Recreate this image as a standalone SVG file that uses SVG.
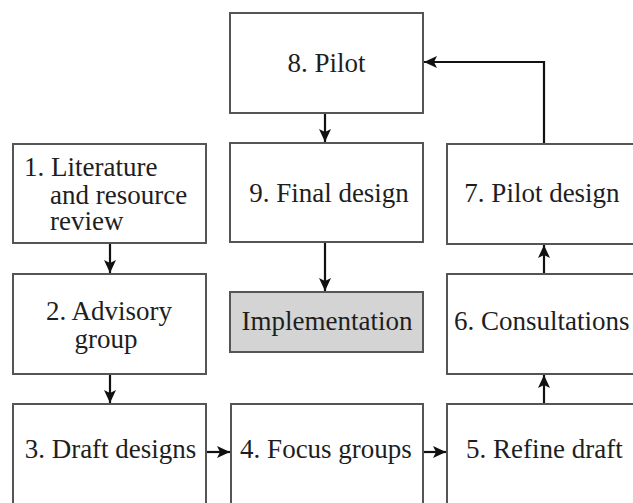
<svg xmlns="http://www.w3.org/2000/svg" width="633" height="503" viewBox="0 0 633 503">
  <style>
    .box { fill: #ffffff; stroke: #555555; stroke-width: 2; }
    .impl { fill: #d4d4d4; stroke: #555555; stroke-width: 2; }
    .lbl { font-family: "Liberation Serif", "Times New Roman", serif; font-size: 27px; fill: #1e1e1e; }
    .mid { text-anchor: middle; }
    .edge { fill: none; stroke: #111111; stroke-width: 2.2; marker-end: url(#head); }
  </style>
  <defs>
    <marker id="head" markerUnits="userSpaceOnUse" markerWidth="14" markerHeight="12" refX="13" refY="6" orient="auto">
      <path d="M0,0 L13,6 L0,12 L3,6 Z" fill="#111111"/>
    </marker>
  </defs>
  <rect width="633" height="503" fill="#ffffff"/>

  <g id="connectors">
    <path class="edge" d="M110,243 V273"/>
    <path class="edge" d="M110,374 V403"/>
    <path class="edge" d="M325,113 V142"/>
    <path class="edge" d="M325,242 V291"/>
    <path class="edge" d="M206,452 H230"/>
    <path class="edge" d="M423,452 H446"/>
    <path class="edge" d="M544,404 V375"/>
    <path class="edge" d="M544,274 V245"/>
    <path class="edge" d="M544,144 V62 H424"/>
  </g>

  <g id="node1">
    <rect class="box" x="13" y="144" width="193" height="99"/>
    <text class="lbl" x="24" y="176">1. Literature</text>
    <text class="lbl" x="50" y="204">and resource</text>
    <text class="lbl" x="50" y="230">review</text>
  </g>
  <g id="node2">
    <rect class="box" x="13" y="274" width="193" height="100"/>
    <text class="lbl mid" x="109" y="320">2. Advisory</text>
    <text class="lbl mid" x="106" y="348">group</text>
  </g>
  <g id="node3">
    <rect class="box" x="13" y="404" width="193" height="130"/>
    <text class="lbl mid" x="110.5" y="458">3. Draft designs</text>
  </g>
  <g id="node4">
    <rect class="box" x="231" y="404" width="192" height="130"/>
    <text class="lbl mid" x="326" y="458">4. Focus groups</text>
  </g>
  <g id="node5">
    <rect class="box" x="447" y="404" width="210" height="130"/>
    <text class="lbl" x="466" y="458">5. Refine draft</text>
  </g>
  <g id="node6">
    <rect class="box" x="447" y="274" width="210" height="100"/>
    <text class="lbl" x="454" y="330">6. Consultations</text>
  </g>
  <g id="node7">
    <rect class="box" x="447" y="144" width="210" height="100"/>
    <text class="lbl mid" x="542" y="202">7. Pilot design</text>
  </g>
  <g id="node8">
    <rect class="box" x="230" y="13" width="193" height="100"/>
    <text class="lbl mid" x="326.5" y="72">8. Pilot</text>
  </g>
  <g id="node9">
    <rect class="box" x="230" y="143" width="193" height="99"/>
    <text class="lbl mid" x="329" y="202">9. Final design</text>
  </g>
  <g id="implementation">
    <rect class="impl" x="230" y="292" width="193" height="60"/>
    <text class="lbl mid" x="327" y="330">Implementation</text>
  </g>
</svg>
